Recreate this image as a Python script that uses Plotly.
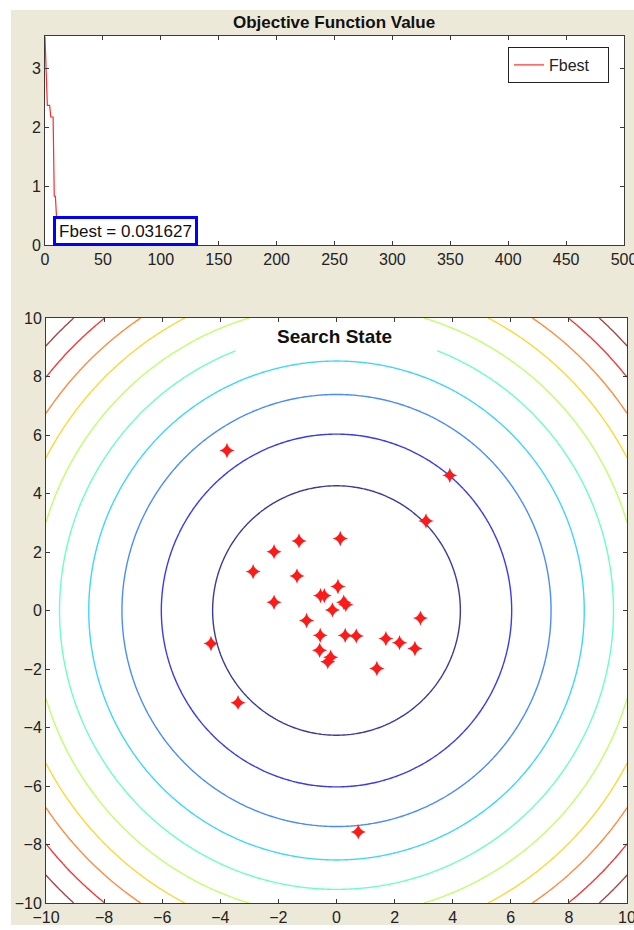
import numpy as np
import plotly.graph_objects as go

# ---------------- data ----------------
# Objective function history (iteration, best value)
iter_vals = [0, 1, 2, 3, 4, 5, 6, 7, 8, 9, 10, 11, 12]
fbest_vals = [3.55, 2.98, 2.38, 2.38, 2.38, 2.18, 2.18, 2.18, 0.83, 0.83, 0.45, 0.2, 0.031627]
fbest_text = "Fbest = 0.031627"

# Search state: particle positions
pts_x = [-3.77, 3.9, 3.08, 0.13, -1.29, -2.15, -2.87, -1.36, 0.05, -0.55, -0.42,
         0.25, 0.32, -2.15, -0.14, -1.03, 2.89, -4.32, -0.56, 0.3, 0.68, 1.7, 2.17,
         2.7, -0.58, -0.3, -0.2, 1.39, -3.39, 0.75]
pts_y = [5.47, 4.62, 3.06, 2.46, 2.38, 2.01, 1.33, 1.18, 0.82, 0.51, 0.51,
         0.28, 0.2, 0.28, 0.02, -0.34, -0.26, -1.13, -0.85, -0.85, -0.87, -0.96, -1.1,
         -1.3, -1.36, -1.75, -1.6, -1.98, -3.15, -7.57]

# contour grid of the objective (sphere function) and its levels
grid = np.linspace(-10, 10, 241)
level_step = 200.0 / 11
n_levels = 10
level_colors = ["#3a3a9a", "#3a3af0", "#4a8cff", "#3dd6ff", "#6affc8",
                "#c0ff6a", "#ffd733", "#ff8a40", "#f23a3a", "#a04848"]

x_ticks_top = list(range(0, 501, 50))
y_ticks_top = [0, 1, 2, 3]
ticks_bottom = list(range(-10, 11, 2))

# ---------------- figure ----------------
W, H = 634, 930
def px_x(p):
    return p / W
def px_y(p):
    return 1 - p / H

X, Y = np.meshgrid(grid, grid)
Z = X ** 2 + Y ** 2

fig = go.Figure()

fig.add_trace(go.Scatter(
    x=iter_vals, y=fbest_vals, mode="lines", name="Fbest\u00a0\u00a0\u00a0",
    line=dict(color="#ff2a2a", width=1.2), xaxis="x", yaxis="y",
))

cs = [[i / (n_levels - 1), c] for i, c in enumerate(level_colors)]
fig.add_trace(go.Contour(
    x=grid, y=grid, z=Z, xaxis="x2", yaxis="y2",
    autocontour=False,
    contours=dict(start=level_step, end=level_step * n_levels, size=level_step,
                  coloring="lines"),
    colorscale=cs, showscale=False, line=dict(width=1.4),
    showlegend=False, hoverinfo="skip",
))

fig.add_trace(go.Scatter(
    x=pts_x, y=pts_y, mode="markers", xaxis="x2", yaxis="y2",
    marker=dict(symbol="star-diamond", size=11, color="#ff1a1a", line=dict(width=0)),
    showlegend=False,
))

font_family = "Liberation Sans, Arial, sans-serif"
axis_common = dict(
    showline=True, linecolor="#3a3a3a", linewidth=1, mirror="ticks",
    ticks="inside", ticklen=4, tickcolor="#3a3a3a", showgrid=False, zeroline=False,
    automargin=False, ticklabeloverflow="allow",
    tickfont=dict(family=font_family, size=16, color="#222222"),
)

fig.update_layout(
    width=W, height=H, margin=dict(l=0, r=0, t=0, b=0, pad=0),
    paper_bgcolor="#ECE9D8", plot_bgcolor="white",
    font=dict(family=font_family, color="#222222"),
    xaxis=dict(domain=[px_x(45), px_x(624)], range=[0, 500], tickvals=x_ticks_top,
               anchor="y", **axis_common),
    yaxis=dict(domain=[px_y(245), px_y(36)], range=[0, 3.56], tickvals=y_ticks_top,
               anchor="x", **axis_common),
    xaxis2=dict(domain=[px_x(46), px_x(627)], range=[-10, 10], tickvals=ticks_bottom,
                anchor="y2", **axis_common),
    yaxis2=dict(domain=[px_y(903), px_y(318)], range=[-10, 10], tickvals=ticks_bottom,
                anchor="x2", **axis_common),
    legend=dict(x=px_x(508), y=px_y(47), xanchor="left", yanchor="top",
                bgcolor="white", bordercolor="#222222", borderwidth=1,
                tracegroupgap=0,
                font=dict(family=font_family, size=16, color="#222222")),
    showlegend=True,
)

# white border of the screenshot around the window
for (x0, x1, y0, y1) in [(0, 11, 0, 930), (0, 634, 0, 10), (0, 634, 925, 930)]:
    fig.add_shape(type="rect", xref="paper", yref="paper", x0=px_x(x0), x1=px_x(x1),
                  y0=px_y(y1), y1=px_y(y0), fillcolor="white", line=dict(width=0),
                  layer="below")
# gap in contour behind the "Search State" title
fig.add_shape(type="rect", xref="x2", yref="y2", x0=-3.47, x1=3.47, y0=8.8, y1=9.7,
              fillcolor="white", line=dict(width=0), layer="above")

fig.add_annotation(text="<b>Objective Function Value</b>", xref="paper", yref="paper",
                   x=px_x(334), y=px_y(22), xanchor="center", yanchor="middle",
                   showarrow=False,
                   font=dict(family=font_family, size=17, color="#111111"))
fig.add_annotation(text="<b>Search State</b>", xref="paper", yref="paper",
                   x=px_x(334), y=px_y(336), xanchor="center", yanchor="middle",
                   showarrow=False,
                   font=dict(family=font_family, size=19, color="#111111"))
fig.add_annotation(text=fbest_text, xref="paper", yref="paper",
                   x=px_x(125.5), y=px_y(231), xanchor="center", yanchor="middle",
                   showarrow=False,
                   width=137, height=22, borderpad=1,
                   bgcolor="white", bordercolor="#0000ff", borderwidth=3,
                   font=dict(family=font_family, size=17, color="#111111"))

fig.write_html(
    "out.html",
    config={"displayModeBar": False},
    post_script="document.body.style.margin='0';document.body.style.overflow='hidden';",
)
